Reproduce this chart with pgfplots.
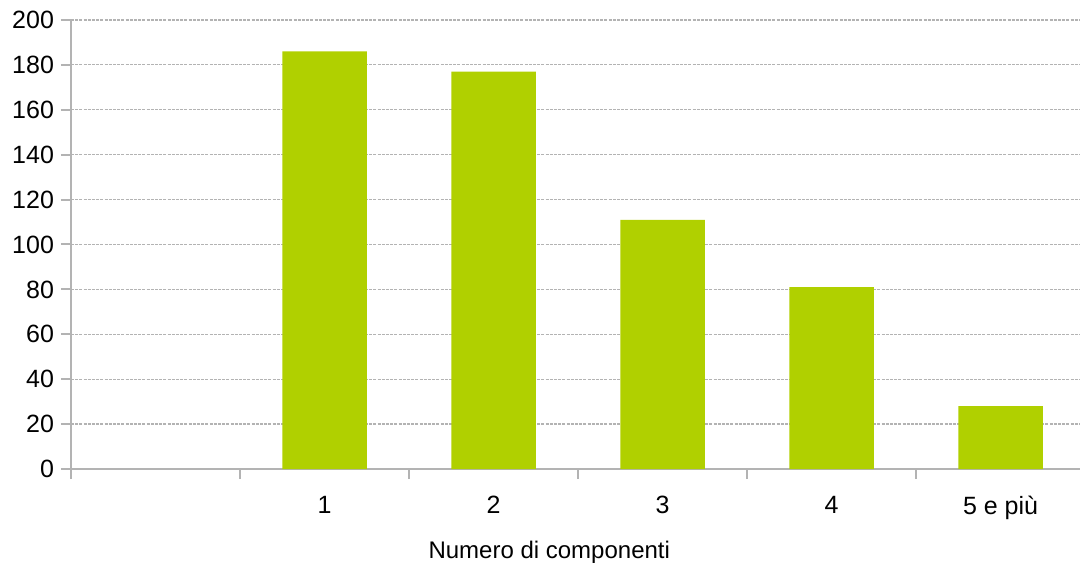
\documentclass[border=0pt]{standalone}
\usepackage{fontspec}
\setmainfont{Liberation Sans}
\usepackage{pgfplots}
\pgfplotsset{compat=1.18}
\definecolor{barcol}{RGB}{176,208,0}
\definecolor{axgray}{RGB}{179,179,179}
\begin{document}
\begin{tikzpicture}
\useasboundingbox (-35.5pt,-51.5pt) rectangle (504.5pt,234.5pt);
\begin{axis}[
  at={(0,0)}, anchor=south west,
  scale only axis, width=504.5pt, height=224.5pt,
  xmin=-0.5, xmax=5.47, ymin=0, ymax=200,
  ybar, bar width=0.5,
  axis x line*=bottom, axis y line*=left,
  axis line style={axgray, line width=1pt, -},
  tick align=outside, major tick length=5pt,
  tick style={axgray, line width=1pt},
  ytick={0,20,...,200},
  xtick={-0.5,0.5,1.5,2.5,3.5,4.5},
  xticklabels={,,,,,},
  extra x ticks={1,2,3,4,5},
  extra x tick labels={1,2,3,4,5 e più},
  extra x tick style={major tick length=0pt, tick style={draw=none}},
  ymajorgrids,
  major grid style={axgray, line width=0.6pt, dash pattern=on 1.5pt off 0.6pt},
  /pgf/number format/assume math mode=true,
  y tick label style={font=\fontsize{12.5}{15}\selectfont, text=black},
  x tick label style={font=\fontsize{12.5}{15}\selectfont, text=black, yshift=-10pt},
  xlabel={Numero di componenti},
  xlabel style={at={(axis description cs:0.474,0)}, anchor=center, yshift=-41.5pt, font=\fontsize{12}{14}\selectfont, text=black},
]
\addplot[fill=barcol, draw=none] coordinates {(1,186) (2,177) (3,111) (4,81) (5,28)};
\end{axis}
\end{tikzpicture}
\end{document}
